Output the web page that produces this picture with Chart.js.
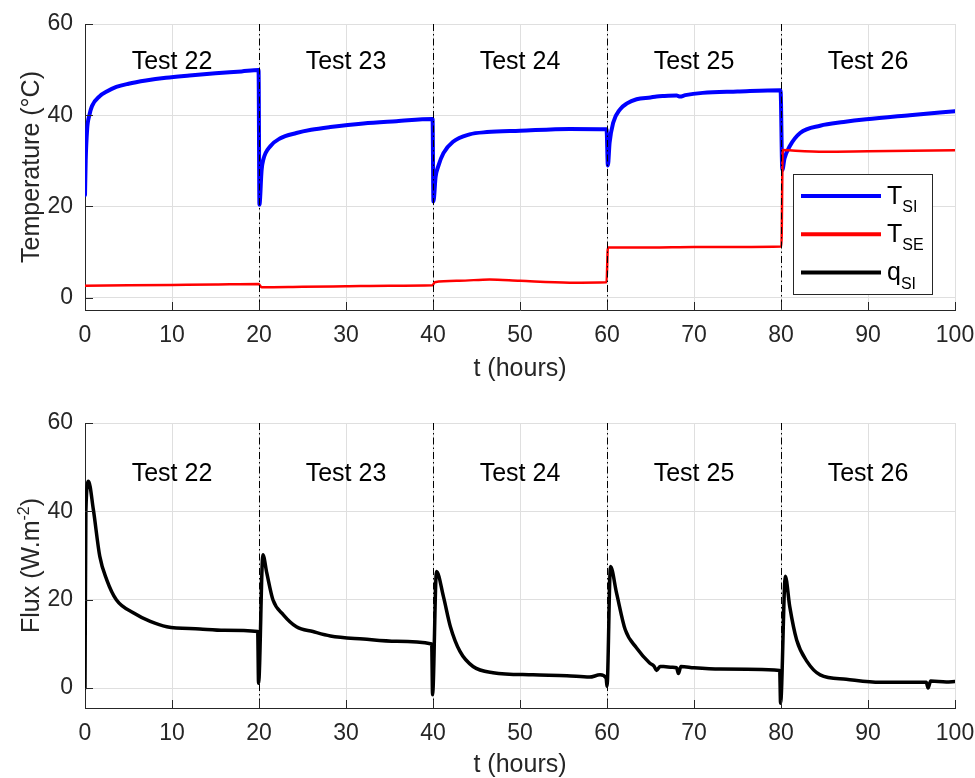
<!DOCTYPE html>
<html>
<head>
<meta charset="utf-8">
<script src="https://cdn.jsdelivr.net/npm/chart.js@4.4.0/dist/chart.umd.min.js"></script>
<style>
  html, body { margin: 0; padding: 0; background: #fff; }
  #top { position: absolute; left: 0; top: 0; width: 975px; height: 385px; }
  #bottom { position: absolute; left: 0; top: 385px; width: 975px; height: 393px; }
</style>
</head>
<body>
<div id="top"><canvas id="tempChart"></canvas></div>
<div id="bottom"><canvas id="fluxChart"></canvas></div>
<script>
// axis ticks and test segments
const xTicks = [0, 10, 20, 30, 40, 50, 60, 70, 80, 90, 100];
const yTicks = [0, 20, 40, 60];
const testBounds = [20, 40, 60, 80];
const testCenters = [10, 30, 50, 70, 90];
const testNames = ["Test 22", "Test 23", "Test 24", "Test 25", "Test 26"];

// T_SI (inner surface temperature, °C)
const tsiTime = [0, 0.08, 0.25, 0.5, 0.8, 1.7, 2.5, 3.6, 5, 7, 9.3, 12, 15, 18, 19.95,
  20.05, 20.3, 20.5, 21.3, 22.4, 24.3, 26, 28.2, 32, 35.8, 39.95,
  40.05, 40.3, 40.6, 41.2, 42.3, 44.2, 46.2, 50, 55.7, 59.95,
  60.1, 60.3, 60.7, 61.5, 62.3, 63.4, 65, 65.7, 66.5, 68, 68.4, 69, 71, 75, 79.95,
  80.15, 80.4, 81, 82.2, 84.5, 87.2, 89.8, 94.8, 100];
const tsiValues = [22.5, 30, 37, 40, 42, 44.2, 45.2, 46.2, 46.9, 47.6, 48.2, 48.7, 49.2, 49.6, 49.9,
  20.4, 28, 30.3, 33.2, 34.9, 36.1, 36.8, 37.4, 38.2, 38.7, 39.2,
  21.1, 26.5, 28.8, 31.7, 34.2, 35.8, 36.3, 36.6, 37.0, 36.9,
  29.0, 34, 38.3, 41.3, 42.6, 43.5, 43.9, 44.1, 44.2, 44.3, 44.1, 44.4, 44.9, 45.2, 45.5,
  28, 30.5, 33.2, 36.1, 37.7, 38.5, 39.1, 40.0, 40.9];

// T_SE (outer surface temperature, °C)
const tseTime = [0, 5, 10, 15, 19.95, 20.3, 25, 30, 35, 39.95, 40.2, 43, 46.5, 50, 55.7, 59.95,
  60.1, 65, 70, 75, 80.05, 80.2, 81, 85, 90, 95, 100];
const tseValues = [2.6, 2.7, 2.8, 2.9, 3.0, 2.3, 2.4, 2.5, 2.6, 2.7, 3.4, 3.7, 4.0, 3.7, 3.3, 3.4,
  11.0, 11.0, 11.1, 11.1, 11.2, 32.4, 32.3, 32.0, 32.1, 32.2, 32.3];

// q_SI (inner heat flux, W/m2)
const qTime = [0, 0.1, 0.4, 0.96, 1.7, 2.5, 3.6, 5.6, 7.5, 9.4, 13.2, 16, 19.85,
  19.95, 20.45, 20.9, 21.6, 22.8, 24.3, 26.2, 28.2, 32, 35.8, 39.85,
  39.95, 40.4, 41.2, 42, 43.1, 44.6, 46.9, 51.5, 55.4, 58, 59.2, 59.9,
  60.0, 60.4, 61.1, 62.1, 63.4, 64.9, 65.4, 65.7, 66.1, 66.5, 67.5, 68.0, 68.2, 68.5, 70, 73, 79.85,
  79.95, 80.5, 81.0, 81.8, 83, 84.5, 87.5, 91.4, 95.2, 96.7, 96.9, 97.2, 99, 100];
const qValues = [0, 40, 46.8, 40.4, 29.8, 24.5, 20.0, 17.0, 15.1, 13.9, 13.4, 13.1, 12.8,
  1.1, 30.2, 26.0, 20.0, 16.6, 13.9, 12.8, 11.8, 11.1, 10.6, 10.0,
  -1.5, 26.4, 20.7, 13.9, 8.3, 4.9, 3.5, 3.0, 2.8, 2.5, 3.0, 2.3,
  0.4, 27.5, 21.5, 13.2, 9.1, 5.7, 5.0, 4.0, 4.9, 4.9, 4.7, 4.6, 3.3, 4.9, 4.6, 4.3, 4.0,
  -3.4, 25.3, 18.5, 10.9, 6.0, 3.0, 2.0, 1.3, 1.3, 1.3, 0.0, 1.6, 1.4, 1.5];

const legendItems = [
  { main: "T", sub: "SI", color: "#0000ff" },
  { main: "T", sub: "SE", color: "#ff0000" },
  { main: "q", sub: "SI", color: "#000000" }
];

const FONT = "'Liberation Sans', Arial, Helvetica, sans-serif";
const AXIS = "#262626";
const GRID = "#dfdfdf";

const toPoints = (xs, ys) => xs.map((x, i) => ({ x: x, y: ys[i] }));

// MATLAB-like decorations: inward ticks, dash-dot test bounds, labels, y title, legend
const decor = {
  id: "decor",
  afterDraw(chart, args, opts) {
    const ctx = chart.ctx;
    const { left, right, top, bottom } = chart.chartArea;
    const xs = chart.scales.x, ys = chart.scales.y;
    ctx.save();

    // dash-dot separators
    ctx.strokeStyle = "#000";
    ctx.lineWidth = 1;
    ctx.setLineDash([7, 3, 1.5, 3]);
    testBounds.forEach(b => {
      const px = Math.round(xs.getPixelForValue(b)) + 0.5;
      ctx.beginPath();
      ctx.moveTo(px, top);
      ctx.lineTo(px, bottom);
      ctx.stroke();
    });
    ctx.setLineDash([]);

    // inward ticks
    ctx.strokeStyle = AXIS;
    xTicks.forEach(v => {
      const px = Math.round(xs.getPixelForValue(v)) + 0.5;
      ctx.beginPath();
      ctx.moveTo(px, bottom);
      ctx.lineTo(px, bottom - 8);
      ctx.stroke();
    });
    yTicks.forEach(v => {
      const py = Math.round(ys.getPixelForValue(v)) + 0.5;
      ctx.beginPath();
      ctx.moveTo(left, py);
      ctx.lineTo(left + 8, py);
      ctx.stroke();
    });

    // test labels
    ctx.fillStyle = "#000";
    ctx.font = "25px " + FONT;
    ctx.textAlign = "center";
    ctx.textBaseline = "middle";
    testCenters.forEach((c, i) => {
      ctx.fillText(testNames[i], xs.getPixelForValue(c), ys.getPixelForValue(opts.labelY));
    });

    // y title with optional superscript
    ctx.translate(31, (top + bottom) / 2);
    ctx.rotate(-Math.PI / 2);
    ctx.fillStyle = AXIS;
    ctx.textAlign = "left";
    ctx.textBaseline = "alphabetic";
    let total = 0;
    opts.yTitle.forEach(p => {
      ctx.font = (p.sup ? "16px " : "25px ") + FONT;
      total += ctx.measureText(p.text).width;
    });
    let cx = -total / 2;
    opts.yTitle.forEach(p => {
      ctx.font = (p.sup ? "16px " : "25px ") + FONT;
      ctx.fillText(p.text, cx, p.sup ? -2 : 8);
      cx += ctx.measureText(p.text).width;
    });
    ctx.restore();

    // legend box
    if (opts.legend) {
      ctx.save();
      const bx = right - 162, by = bottom - 136, bw = 139, bh = 120;
      ctx.fillStyle = "#fff";
      ctx.fillRect(bx, by, bw, bh);
      ctx.strokeStyle = AXIS;
      ctx.lineWidth = 1;
      ctx.strokeRect(bx + 0.5, by + 0.5, bw, bh);
      legendItems.forEach((it, i) => {
        const ly = by + 22 + i * 38.3;
        ctx.strokeStyle = it.color;
        ctx.lineWidth = 4;
        ctx.beginPath();
        ctx.moveTo(bx + 8, ly);
        ctx.lineTo(bx + 88, ly);
        ctx.stroke();
        ctx.fillStyle = "#000";
        ctx.textAlign = "left";
        ctx.textBaseline = "alphabetic";
        ctx.font = "25px " + FONT;
        ctx.fillText(it.main, bx + 94, ly + 7.5);
        const w = ctx.measureText(it.main).width;
        ctx.font = "16px " + FONT;
        ctx.fillText(it.sub, bx + 94 + w, ly + 16);
      });
      ctx.restore();
    }
  }
};

function makeOptions(cfg) {
  return {
    responsive: true,
    maintainAspectRatio: false,
    animation: false,
    layout: { padding: { top: cfg.padTop, right: 20, left: 0, bottom: 0 } },
    plugins: {
      legend: { display: false },
      tooltip: { enabled: false },
      decor: { labelY: cfg.labelY, yTitle: cfg.yTitle, legend: cfg.legend }
    },
    elements: { point: { radius: 0 }, line: { cubicInterpolationMode: "monotone", borderCapStyle: "round", borderJoinStyle: "round" } },
    scales: {
      x: {
        type: "linear",
        min: 0,
        max: 100,
        afterBuildTicks: s => { s.ticks = xTicks.map(v => ({ value: v })); },
        afterFit: s => { s.height = cfg.xHeight; s.paddingLeft = 0; s.paddingRight = 0; },
        grid: { color: GRID, drawTicks: false },
        border: { display: true, color: AXIS, width: 1 },
        ticks: { padding: 12, color: AXIS, font: { size: 23, family: FONT } },
        title: {
          display: true,
          text: "t (hours)",
          color: AXIS,
          font: { size: 25, family: FONT, lineHeight: 1 },
          padding: { top: 0, bottom: cfg.xTitlePad }
        }
      },
      y: {
        min: cfg.yMin,
        max: 60,
        afterBuildTicks: s => { s.ticks = yTicks.map(v => ({ value: v })); },
        afterFit: s => { s.width = 85; s.paddingTop = 0; s.paddingBottom = 0; },
        grid: { color: GRID, drawTicks: false },
        border: { display: true, color: AXIS, width: 1 },
        ticks: { padding: 12, color: AXIS, font: { size: 23, family: FONT } }
      }
    }
  };
}

new Chart(document.getElementById("tempChart"), {
  type: "line",
  data: {
    datasets: [
      { label: "T_SI", data: toPoints(tsiTime, tsiValues), borderColor: "#0000ff", borderWidth: 4, order: 2 },
      { label: "T_SE", data: toPoints(tseTime, tseValues), borderColor: "#ff0000", borderWidth: 2.5, order: 1 }
    ]
  },
  options: makeOptions({
    padTop: 24, xHeight: 75, xTitlePad: 3.5, yMin: -2.7, labelY: 51.7, legend: true,
    yTitle: [{ text: "Temperature (°C)" }]
  }),
  plugins: [decor]
});

new Chart(document.getElementById("fluxChart"), {
  type: "line",
  data: {
    datasets: [
      { label: "q_SI", data: toPoints(qTime, qValues), borderColor: "#000000", borderWidth: 3.5 }
    ]
  },
  options: makeOptions({
    padTop: 38, xHeight: 70, xTitlePad: 0, yMin: -4.5, labelY: 48.5, legend: false,
    yTitle: [{ text: "Flux (W.m" }, { text: "-2", sup: true }, { text: ")" }]
  }),
  plugins: [decor]
});
</script>
</body>
</html>
